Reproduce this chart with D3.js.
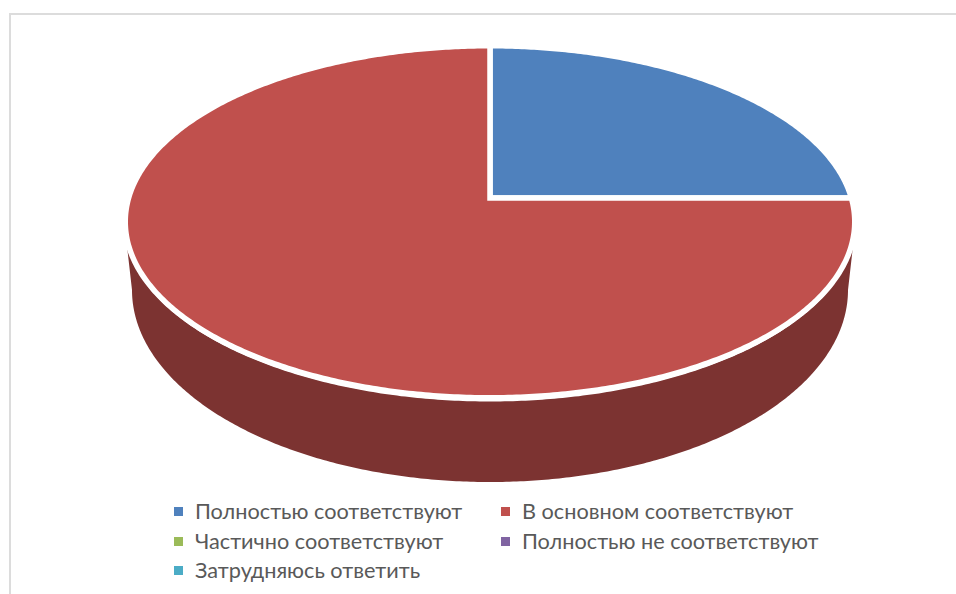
<!DOCTYPE html>
<html>
<head>
<meta charset="utf-8">
<script src="https://cdnjs.cloudflare.com/ajax/libs/d3/7.8.5/d3.min.js"></script>
<style>
  html, body { margin: 0; padding: 0; background: #fff; }
  svg { display: block; }
  text { font-family: Lato, "Open Sans", sans-serif; }
</style>
</head>
<body>
<div id="chart"></div>
<script>
var categories = ["Полностью соответствуют", "В основном соответствуют", "Частично соответствуют", "Полностью не соответствуют", "Затрудняюсь ответить"];
var seriesValues = [25, 75, 0, 0, 0];
var topColors = ["#4f81bd", "#c0504d", "#9bbb59", "#8064a2", "#4bacc6"];
var sideColors = ["#3b6086", "#7c3331", "#6c823e", "#594671", "#347889"];

var svgWidth = 956, svgHeight = 594;

var svg = d3.select("#chart").append("svg")
  .attr("width", svgWidth).attr("height", svgHeight);

// chart frame, runs off the right and bottom of the shot
svg.append("path")
  .attr("d", "M10,594V14H956")
  .attr("fill", "none")
  .attr("stroke", "#dcdcdc")
  .attr("stroke-width", 2);

// 3d pie: a circle seen in perspective, so apex sits above the ellipse middle
var cx = 490;
var topPlane = { cy: 198, rx: 361.4, ry: 172.8, k: 0.1351 };
var rimPlane = { cy: 198, rx: 363, ry: 176, k: 0.1351 };
var basePlane = { cy: 290, rx: 358, ry: 192, k: 0 };
var rimCut = 0.27;

function project(plane, angle) {
  // angle as d3.pie gives it: 0 at 12 o'clock, clockwise
  var u = Math.sin(angle), v = Math.cos(angle);
  var w = 1 + plane.k * v;
  return [cx + plane.rx * u / w, plane.cy - plane.ry * v / w];
}

var pie = d3.pie().sort(null).value(function(d) { return d; });
var arcs = pie(seriesValues);
var line = d3.line();

function arcPoints(plane, a0, a1) {
  var steps = Math.max(2, Math.ceil(Math.abs(a1 - a0) / 0.01));
  return d3.range(steps + 1).map(function(i) {
    return project(plane, a0 + (a1 - a0) * i / steps);
  });
}

function slicePath(d) {
  return line([[cx, topPlane.cy]].concat(arcPoints(topPlane, d.startAngle, d.endAngle))) + "Z";
}

function sidePath(d) {
  // only the front part of the wall shows
  var a0 = Math.max(d.startAngle, Math.PI / 2 + rimCut);
  var a1 = Math.min(d.endAngle, Math.PI * 1.5 - rimCut);
  if (a1 <= a0) return null;
  // top rim forward, then back along the bottom rim
  var pts = arcPoints(rimPlane, a0, a1).concat(arcPoints(basePlane, Math.PI * 1.5, Math.PI / 2));
  return line(pts) + "Z";
}

var pieGroup = svg.append("g");

pieGroup.selectAll("path.side")
  .data(arcs)
  .enter()
  .append("path")
  .attr("class", "side")
  .attr("d", sidePath)
  .attr("fill", function(d, i) { return sideColors[i]; });

pieGroup.selectAll("path.top")
  .data(arcs.filter(function(d) { return d.value > 0; }))
  .enter()
  .append("path")
  .attr("class", "top")
  .attr("d", slicePath)
  .attr("fill", function(d) { return topColors[d.index]; })
  .attr("stroke", "#fff")
  .attr("stroke-width", 5.5)
  .attr("stroke-linejoin", "miter");

// legend, two columns
var legendX = [174, 501];
var legendY = [511.5, 541.5, 570.5];

var legend = svg.selectAll("g.legend")
  .data(categories)
  .enter()
  .append("g")
  .attr("class", "legend")
  .attr("transform", function(d, i) {
    return "translate(" + legendX[i % 2] + "," + legendY[Math.floor(i / 2)] + ")";
  });

legend.append("rect")
  .attr("x", 0).attr("y", -4.5)
  .attr("width", 9).attr("height", 9)
  .attr("fill", function(d, i) { return topColors[i]; });

legend.append("text")
  .attr("x", 21)
  .attr("y", 7.5)
  .attr("font-size", "21.7px")
  .attr("fill", "#595959")
  .text(function(d) { return d; });
</script>
</body>
</html>
